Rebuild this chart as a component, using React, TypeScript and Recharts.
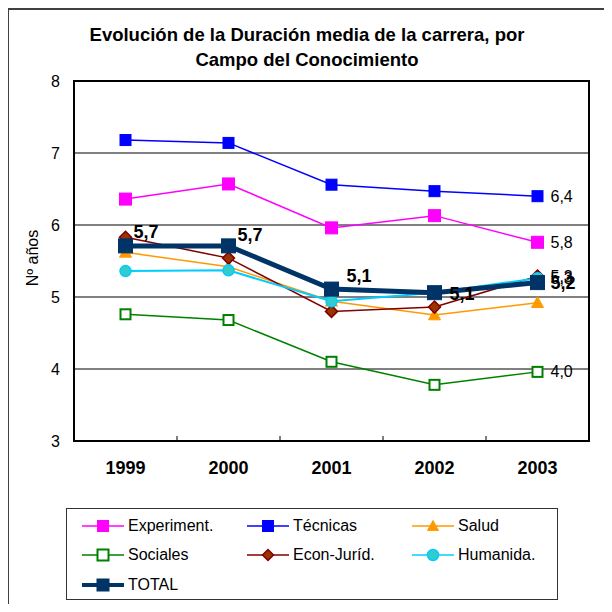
import React from 'react';
import { LineChart, Line, XAxis, YAxis, CartesianGrid, ReferenceArea, Legend, LabelList } from 'recharts';

const years = ['1999', '2000', '2001', '2002', '2003'];
const experiment = [6.36, 6.57, 5.96, 6.13, 5.76];
const tecnicas = [7.18, 7.14, 6.56, 6.47, 6.40];
const salud = [5.62, 5.42, 4.94, 4.75, 4.92];
const sociales = [4.76, 4.68, 4.10, 3.78, 3.96];
const econ = [5.83, 5.54, 4.80, 4.86, 5.29];
const humanida = [5.36, 5.37, 4.94, 5.06, 5.26];
const total = [5.71, 5.71, 5.11, 5.06, 5.20];
const yTicks = [3, 4, 5, 6, 7, 8];

const FONT = 'Arial, "Liberation Sans", Helvetica, sans-serif';

type Shape = 'square' | 'triangle' | 'diamond' | 'circle';
type Serie = {
  key: string; name: string; values: number[]; color: string; shape: Shape;
  fill: string; stroke: string; size: number; width: number; lastLabel: boolean;
};

const series: Serie[] = [
  { key: 'experiment', name: 'Experiment.', values: experiment, color: '#FF00FF', shape: 'square', fill: '#FF00FF', stroke: '#FF00FF', size: 12, width: 1.5, lastLabel: true },
  { key: 'tecnicas', name: 'Técnicas', values: tecnicas, color: '#0000FF', shape: 'square', fill: '#0000FF', stroke: '#0000FF', size: 11, width: 1.5, lastLabel: true },
  { key: 'salud', name: 'Salud', values: salud, color: '#FF9900', shape: 'triangle', fill: '#FF9900', stroke: '#FF9900', size: 12, width: 1.5, lastLabel: false },
  { key: 'sociales', name: 'Sociales', values: sociales, color: '#008000', shape: 'square', fill: '#FFFFFF', stroke: '#008000', size: 10, width: 1.5, lastLabel: true },
  { key: 'econ', name: 'Econ-Juríd.', values: econ, color: '#800000', shape: 'diamond', fill: '#993300', stroke: '#800000', size: 12, width: 1.5, lastLabel: true },
  { key: 'humanida', name: 'Humanida.', values: humanida, color: '#00CCFF', shape: 'circle', fill: '#33CCCC', stroke: '#00CCFF', size: 11, width: 2, lastLabel: true },
  { key: 'total', name: 'TOTAL', values: total, color: '#003366', shape: 'square', fill: '#003366', stroke: '#003366', size: 14, width: 5, lastLabel: false },
];

const data = years.map((year, i) => {
  const row: Record<string, string | number> = { year };
  series.forEach(s => { row[s.key] = s.values[i]; });
  return row;
});

const fmt = (v: number) => v.toFixed(1).replace('.', ',');

function Marker({ shape, cx, cy, size, fill, stroke }: { shape: Shape; cx: number; cy: number; size: number; fill: string; stroke: string }) {
  const h = size / 2;
  if (shape === 'square') {
    return <rect x={cx - h} y={cy - h} width={size} height={size} fill={fill} stroke={stroke} strokeWidth={fill === '#FFFFFF' ? 2 : 1} />;
  }
  if (shape === 'triangle') {
    return <polygon points={`${cx},${cy - h} ${cx + h},${cy + h * 0.8} ${cx - h},${cy + h * 0.8}`} fill={fill} stroke={stroke} strokeWidth={1} />;
  }
  if (shape === 'diamond') {
    return <polygon points={`${cx},${cy - h} ${cx + h},${cy} ${cx},${cy + h} ${cx - h},${cy}`} fill={fill} stroke={stroke} strokeWidth={1.5} />;
  }
  return <circle cx={cx} cy={cy} r={h} fill={fill} stroke={stroke} strokeWidth={1.5} />;
}

// offsets of the bold TOTAL labels, per year
const totalLabelOffsets = [[8, -14], [9, -11], [15, -13], [15, 1], [13, 0]];

function XTick(props: any) {
  const { x, y, payload } = props;
  const axisY = y - 20;
  const off = payload && typeof payload.offset === 'number' ? payload.offset : 0;
  return (
    <g>
      {payload.index > 0 && off > 0 && (
        <line x1={x - off} x2={x - off} y1={axisY} y2={axisY - 5} stroke="#000" strokeWidth={1} />
      )}
      <text x={x} y={y} dy="0.71em" textAnchor="middle" fontFamily={FONT} fontSize={18} fontWeight="bold" fill="#000">
        {payload.value}
      </text>
    </g>
  );
}

function LegendBox() {
  return (
    <div style={{
      boxSizing: 'border-box', width: 492, height: 92, border: '1px solid #333', background: '#fff',
      padding: '2px 0 0 15px', fontFamily: FONT, fontSize: 16, color: '#000',
      display: 'grid', gridTemplateColumns: '165px 165px 160px', gridAutoRows: '29.5px',
    }}>
      {series.map(s => (
        <div key={s.key} style={{ display: 'flex', alignItems: 'center', whiteSpace: 'nowrap' }}>
          <svg width={42} height={16} style={{ marginRight: 4 }}>
            <line x1={0} x2={42} y1={8} y2={8} stroke={s.color} strokeWidth={s.key === 'total' ? 4 : 1.5} />
            <Marker shape={s.shape} cx={21} cy={8} size={s.key === 'total' ? 12 : 11} fill={s.fill} stroke={s.stroke} />
          </svg>
          <span>{s.name}</span>
        </div>
      ))}
    </div>
  );
}

export default function App() {
  return (
    <div style={{ position: 'relative', width: 596, height: 596, background: '#fff' }}>
      <div style={{ position: 'absolute', left: -1, top: 0, width: 597, height: 596, borderTop: '2px solid #404040', borderLeft: '2px solid #404040', boxSizing: 'border-box' }} />
      <div style={{
        position: 'absolute', left: 0, top: 15, width: 598, textAlign: 'center',
        fontFamily: FONT, fontWeight: 'bold', fontSize: 18.5, lineHeight: '24.5px', color: '#000',
      }}>
        Evolución de la Duración media de la carrera, por<br />Campo del Conocimiento
      </div>
      <LineChart width={596} height={596} data={data} margin={{ top: 73, right: 15, left: 0, bottom: 123 }}>
        <CartesianGrid vertical={false} stroke="#000" strokeWidth={1} />
        <ReferenceArea y1={3} y2={8} fill="none" stroke="#000" strokeWidth={2} ifOverflow="visible" />
        <XAxis dataKey="year" scale="band" height={40} axisLine={false} tickLine={false}
          tickSize={6} tickMargin={14} tick={<XTick />} interval={0} />
        <YAxis type="number" domain={[3, 8]} ticks={yTicks} width={66} axisLine={false} tickLine={false}
          tickSize={6} tickMargin={8} interval={0}
          tick={{ fill: '#000', fontSize: 16, fontFamily: FONT }}
          label={{
            content: (p: any) => {
              const vb = p.viewBox || {};
              const cx = (vb.x ?? 0) + 24;
              const cy = (vb.y ?? 0) + (vb.height ?? 0) / 2 - 3;
              return (
                <text x={cx} y={cy} transform={`rotate(-90, ${cx}, ${cy})`} textAnchor="middle" dominantBaseline="central"
                  fontFamily={FONT} fontSize={16} fill="#000">Nº años</text>
              );
            },
          }} />
        <Legend verticalAlign="middle" align="center" layout="horizontal" content={() => <LegendBox />}
          wrapperStyle={{ left: 58, top: 500, width: 492, height: 92 }} />
        {series.map(s => (
          <Line key={s.key} dataKey={s.key} name={s.name} type="linear" stroke={s.color} strokeWidth={s.width}
            isAnimationActive={false} activeDot={false}
            dot={(p: any) => <Marker key={`${s.key}-${p.index}`} shape={s.shape} cx={p.cx} cy={p.cy} size={s.size} fill={s.fill} stroke={s.stroke} />}>
            {(s.lastLabel || s.key === 'total') && (
              <LabelList dataKey={s.key} content={(p: any) => {
                const idx = p.index;
                const px = p.x ?? p.viewBox?.x;
                const py = p.y ?? p.viewBox?.y;
                if (px == null || py == null) return null;
                if (s.key === 'total') {
                  const [dx, dy] = totalLabelOffsets[idx] || [13, 0];
                  return (
                    <text x={px + dx} y={py + dy} dominantBaseline="central" fontFamily={FONT} fontSize={18}
                      fontWeight="bold" fill="#000">{fmt(Number(p.value))}</text>
                  );
                }
                if (idx !== years.length - 1) return null;
                return (
                  <text x={px + 13} y={py} dominantBaseline="central" fontFamily={FONT} fontSize={16} fill="#000">
                    {fmt(Number(p.value))}
                  </text>
                );
              }} />
            )}
          </Line>
        ))}
      </LineChart>
    </div>
  );
}
